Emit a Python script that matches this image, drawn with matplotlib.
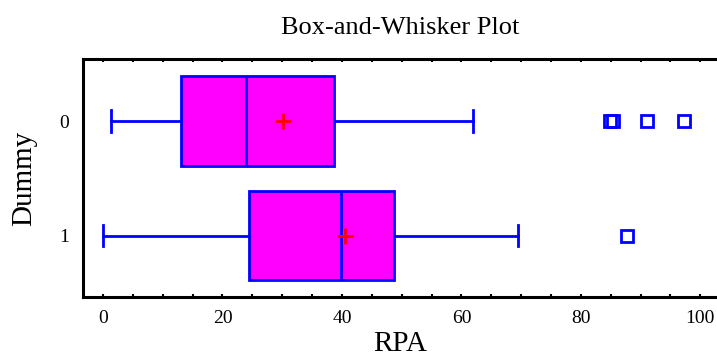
import matplotlib
matplotlib.use("Agg")
import matplotlib.pyplot as plt
from matplotlib.ticker import MultipleLocator

# Five-number summaries, one per group
groups = ["0", "1"]
whisker_low = [1.4, 0.0]
q1 = [13.1, 24.4]
medians = [24.0, 39.9]
q3 = [38.6, 48.8]
whisker_high = [61.9, 69.5]
means = [30.1, 40.5]
outliers = [[84.9, 85.4, 91.1, 97.2], [87.7]]

plt.rcParams['font.family'] = ['Liberation Serif', 'DejaVu Serif']

fig = plt.figure(figsize=(7.17, 3.62), dpi=100)
ax = fig.add_axes([0.1158, 0.1787, 0.8842, 0.6574])

stats = []
for i, g in enumerate(groups):
    stats.append({
        "label": g, "whislo": whisker_low[i], "q1": q1[i], "med": medians[i],
        "q3": q3[i], "whishi": whisker_high[i], "mean": means[i],
        "fliers": outliers[i],
    })

blue = "#0000ff"
ax.bxp(stats, positions=[0, 1], vert=False, widths=0.785, patch_artist=True,
       showmeans=True, showfliers=True,
       boxprops=dict(facecolor="#ff00ff", edgecolor=blue, linewidth=2),
       medianprops=dict(color=blue, linewidth=2),
       whiskerprops=dict(color=blue, linewidth=2),
       capprops=dict(color=blue, linewidth=2),
       capwidths=0.19,
       meanprops=dict(marker="+", markeredgecolor="red", markersize=11, markeredgewidth=2),
       flierprops=dict(marker="s", markerfacecolor="none", markeredgecolor=blue,
                       markersize=8, markeredgewidth=2, linestyle="none"))

ax.set_xlim(-3.35, 102.8)
ax.set_ylim(1.54, -0.54)
ax.set_yticks([0, 1])
ax.set_yticklabels(groups)
ax.xaxis.set_major_locator(MultipleLocator(20))
ax.xaxis.set_minor_locator(MultipleLocator(5))
ax.tick_params(axis="x", which="both", direction="in", top=True, bottom=True,
               length=2, width=1.5, labelsize=14, pad=9)
ax.tick_params(axis="y", length=0, labelsize=14, pad=10)

for side in ["left", "top", "bottom"]:
    ax.spines[side].set_linewidth(2.2)
ax.spines["right"].set_visible(False)

ax.set_title("Box-and-Whisker Plot", fontsize=19, pad=18)
ax.set_xlabel("RPA", fontsize=21, labelpad=3)
ax.set_ylabel("Dummy", fontsize=21, labelpad=16)

fig.savefig("out.png", dpi=100)
